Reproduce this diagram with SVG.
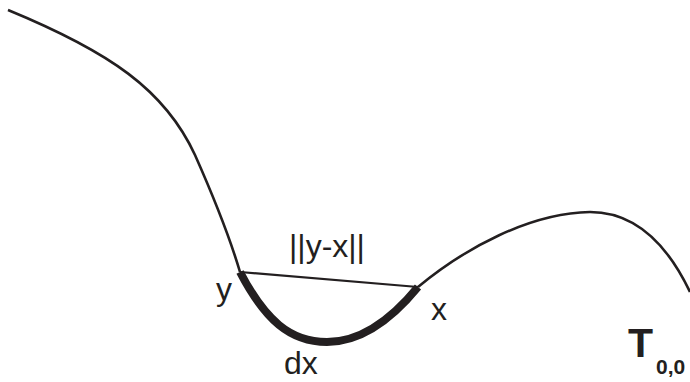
<svg xmlns="http://www.w3.org/2000/svg" width="690" height="382" viewBox="0 0 690 382">
<style>
.c{fill:none;stroke:#231f20;stroke-width:2.6;stroke-linecap:butt}
.t{font-family:"Liberation Sans",Arial,sans-serif;font-size:32px;fill:#231f20}
</style>
<rect width="690" height="382" fill="#fff"/>
<g id="connectors">
<path class="c" d="M8,10 C110,52 165,90 195,155 C215,200 232,245 240,272"/>
<path class="c" d="M418,287 C465,248 530,213 590,212 C640,212 670,250 690,292"/>
<path class="c" d="M240,272 C265,320 290,342 327,342 C365,342 395,315 418,287" style="stroke-width:8"/>
<path class="c" d="M240,272 L418,287" style="stroke-width:2.2"/>
</g>
<g id="labels">
<text class="t" x="289" y="257">||y-x||</text>
<text class="t" x="216" y="300">y</text>
<text class="t" x="431" y="320">x</text>
<text class="t" x="284" y="374">dx</text>
<text class="t" x="628" y="357" style="font-weight:bold;font-size:41px">T<tspan style="font-size:21px" dx="3" dy="17">0,0</tspan></text>
</g>
</svg>
